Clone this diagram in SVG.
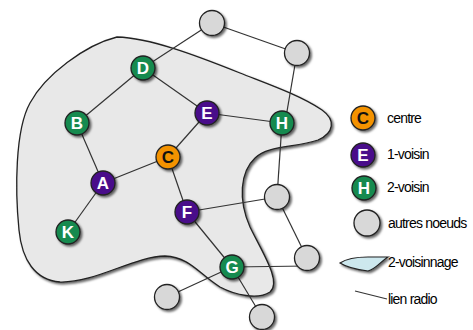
<svg xmlns="http://www.w3.org/2000/svg" width="473" height="330" viewBox="0 0 473 330">
<defs>
<filter id="sh" x="-30%" y="-30%" width="160%" height="160%">
<feDropShadow dx="1.8" dy="1.8" stdDeviation="1" flood-color="#000" flood-opacity="0.6"/>
</filter>
</defs>
<style>
.n{stroke:#222;stroke-width:1.3;filter:url(#sh)}
.g{fill:#138a4f}.p{fill:#4a0f8a}.o{fill:#f39200}.x{fill:#d8d8d8}
.t{font-family:"Liberation Sans",Arial,sans-serif;font-weight:bold;font-size:17px;fill:#fff;text-anchor:middle}
.tc{fill:#111}
.e{stroke:#333;stroke-width:1.2;fill:none}
.l{font-family:"Liberation Sans",Arial,sans-serif;font-size:14px;letter-spacing:-0.8px;fill:#000}
</style>
<rect width="473" height="330" fill="#fff"/>
<g id="region">
<path d="M117,37 C150,38 195,55 240,73 C265,83 300,95 322,110 C336,120 334,133 318,140 C295,148 268,145 255,158 C240,172 238,200 250,227 C262,252 282,282 270,292 C258,300 235,295 220,287 C200,275 190,257 165,256 C135,256 95,283 60,282 C35,280 22,260 19,230 C15,190 15,130 30,103 C45,75 85,45 117,37 Z" fill="#e8e8e8" stroke="#222" stroke-width="1.3" filter="url(#sh)"/>
</g>
<g id="connectors">
<line class="e" x1="212" y1="23" x2="143" y2="68"/>
<line class="e" x1="212" y1="23" x2="297" y2="53"/>
<line class="e" x1="143" y1="68" x2="77" y2="123"/>
<line class="e" x1="143" y1="68" x2="207" y2="113"/>
<line class="e" x1="207" y1="113" x2="282" y2="123"/>
<line class="e" x1="207" y1="113" x2="168" y2="157"/>
<line class="e" x1="77" y1="123" x2="103" y2="183"/>
<line class="e" x1="103" y1="183" x2="168" y2="157"/>
<line class="e" x1="103" y1="183" x2="68" y2="232"/>
<line class="e" x1="168" y1="157" x2="187" y2="212"/>
<line class="e" x1="187" y1="212" x2="232" y2="267"/>
<line class="e" x1="187" y1="212" x2="277" y2="197"/>
<line class="e" x1="297" y1="53" x2="285" y2="123"/>
<line class="e" x1="282" y1="123" x2="277" y2="197"/>
<line class="e" x1="277" y1="197" x2="307" y2="258"/>
<line class="e" x1="232" y1="267" x2="307" y2="266"/>
<line class="e" x1="232" y1="267" x2="167" y2="297"/>
<line class="e" x1="232" y1="267" x2="262" y2="317"/>
</g>
<g id="n-top"><circle class="n x" cx="212" cy="23" r="12.5"/></g>
<g id="n-rt"><circle class="n x" cx="297" cy="53" r="12.5"/></g>
<g id="n-rm"><circle class="n x" cx="277" cy="197" r="12.5"/></g>
<g id="n-rb"><circle class="n x" cx="307" cy="258" r="12.5"/></g>
<g id="n-bl"><circle class="n x" cx="167" cy="297" r="12.5"/></g>
<g id="n-bb"><circle class="n x" cx="262" cy="317" r="12.5"/></g>
<g id="n-D"><circle class="n g" cx="143" cy="68" r="12"/><text class="t" x="143" y="74">D</text></g>
<g id="n-B"><circle class="n g" cx="77" cy="123" r="12"/><text class="t" x="77" y="129">B</text></g>
<g id="n-E"><circle class="n p" cx="207" cy="113" r="12"/><text class="t" x="207" y="119">E</text></g>
<g id="n-H"><circle class="n g" cx="282" cy="123" r="12"/><text class="t" x="282" y="129">H</text></g>
<g id="n-C"><circle class="n o" cx="168" cy="157" r="12"/><text class="t tc" x="168" y="163">C</text></g>
<g id="n-A"><circle class="n p" cx="103" cy="183" r="12"/><text class="t" x="103" y="189">A</text></g>
<g id="n-K"><circle class="n g" cx="68" cy="232" r="12"/><text class="t" x="68" y="238">K</text></g>
<g id="n-F"><circle class="n p" cx="187" cy="212" r="12"/><text class="t" x="187" y="218">F</text></g>
<g id="n-G"><circle class="n g" cx="232" cy="267" r="12"/><text class="t" x="232" y="273">G</text></g>
<g id="legend">
<circle class="n o" cx="363" cy="118" r="12"/><text class="t tc" x="363" y="124">C</text>
<text class="l" x="387" y="123">centre</text>
<circle class="n p" cx="363" cy="155" r="12"/><text class="t" x="363" y="161">E</text>
<text class="l" x="387" y="159">1-voisin</text>
<circle class="n g" cx="364" cy="188" r="12"/><text class="t" x="364" y="194">H</text>
<text class="l" x="387" y="192">2-voisin</text>
<circle class="n x" cx="367" cy="223" r="13"/>
<text class="l" x="388" y="228">autres noeuds</text>
<path d="M340,263 C346,259 356,257 368,257 L388,257 C380,262 376,269 368,271 C360,270 348,268 340,263 Z" fill="#cde8ee" stroke="#222" stroke-width="1.2" filter="url(#sh)"/>
<text class="l" x="388" y="267">2-voisinnage</text>
<line class="e" x1="355" y1="291" x2="387" y2="299"/>
<text class="l" x="388" y="304">lien radio</text>
</g>
</svg>
